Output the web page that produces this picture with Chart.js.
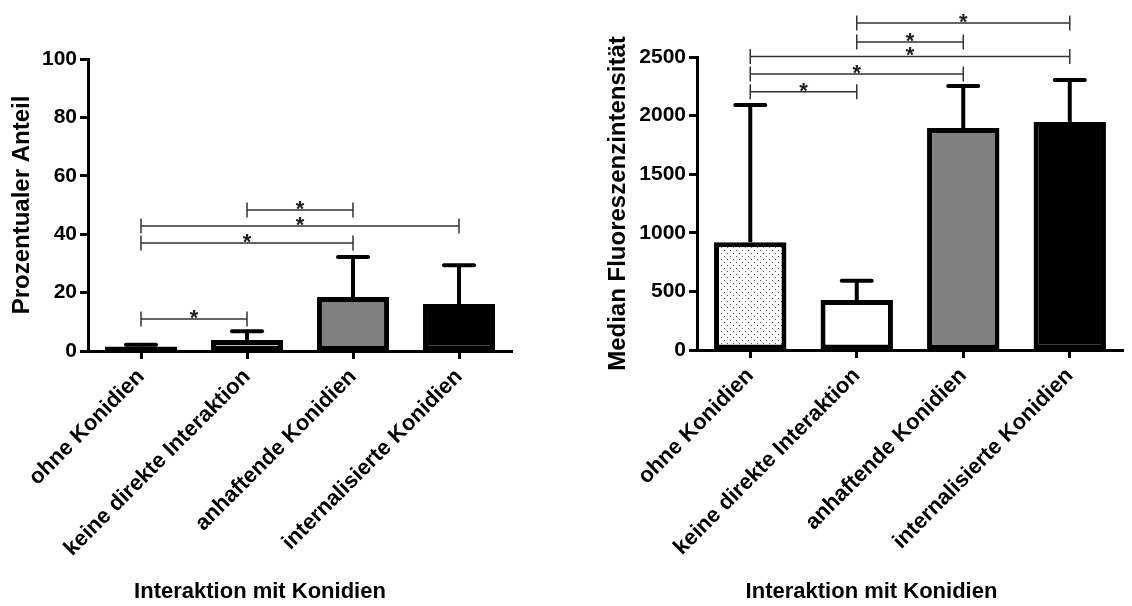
<!DOCTYPE html>
<html>
<head>
<meta charset="utf-8">
<script src="https://cdn.jsdelivr.net/npm/chart.js@4"></script>
<style>
  body { margin: 0; background: #fff; }
  #wrap { position: relative; width: 1132px; height: 606px; overflow: hidden; }
  canvas { position: absolute; top: 0; }
  #anteilChart { left: 0; }
  #mfiChart { left: 600px; }
</style>
</head>
<body>
<div id="wrap">
  <canvas id="anteilChart" width="530" height="606"></canvas>
  <canvas id="mfiChart" width="532" height="606"></canvas>
</div>
<script>
// DATA
const categories = [
  "ohne Konidien",
  "keine direkte Interaktion",
  "anhaftende Konidien",
  "internalisierte Konidien",
];
const xTitle = "Interaktion mit Konidien";

// left panel: Prozentualer Anteil (mean + upper SD)
const anteilMean = [1.5, 3.8, 18.5, 16.1];
const anteilSD = [0.6, 3.0, 13.7, 13.3];
const anteilSigPairs = [[0, 1], [0, 2], [0, 3], [1, 2]];
const anteilSigLevels = [11, 37, 42.8, 48.3];
const anteilMax = 100;
const anteilStep = 20;

// right panel: Median Fluoreszenzintensitaet
const mfiMean = [920, 427, 1894, 1946];
const mfiSD = [1170, 163, 359, 358];
const mfiSigPairs = [[0, 1], [0, 2], [0, 3], [1, 2], [1, 3]];
const mfiSigLevels = [2203, 2355, 2505, 2628, 2790];
const mfiMax = 2500;
const mfiStep = 500;

const FONT = "'Liberation Sans', Arial, sans-serif";

// dotted fill for the first bar
function dotPattern() {
  const tile = document.createElement("canvas");
  tile.width = 6;
  tile.height = 6;
  const t = tile.getContext("2d");
  t.fillStyle = "#fff";
  t.fillRect(0, 0, 6, 6);
  t.fillStyle = "#555";
  t.fillRect(1, 1, 1, 1);
  t.fillRect(4, 4, 1, 1);
  return document.createElement("canvas").getContext("2d").createPattern(tile, "repeat");
}
const barColors = [dotPattern(), "#ffffff", "#808080", "#000000"];

// error bars + significance brackets, placed through the chart scales
const annotate = {
  id: "annotate",
  afterDatasetsDraw(chart, args, opts) {
    const ctx = chart.ctx;
    const xs = chart.scales.x;
    const ys = chart.scales.y;
    ctx.save();

    ctx.strokeStyle = "#000";
    ctx.lineWidth = 4;
    opts.mean.forEach((m, i) => {
      const px = xs.getPixelForValue(i);
      const top = ys.getPixelForValue(m);
      const cap = ys.getPixelForValue(m + opts.sd[i]);
      ctx.lineCap = "butt";
      ctx.beginPath();
      ctx.moveTo(px, top);
      ctx.lineTo(px, cap);
      ctx.stroke();
      ctx.lineCap = "round";
      ctx.beginPath();
      ctx.moveTo(px - 15, cap);
      ctx.lineTo(px + 15, cap);
      ctx.stroke();
    });

    ctx.strokeStyle = "#333";
    ctx.lineWidth = 1.5;
    ctx.lineCap = "butt";
    ctx.fillStyle = "#1c1c28";
    ctx.font = "bold 22px " + FONT;
    ctx.textAlign = "center";
    ctx.textBaseline = "alphabetic";
    opts.pairs.forEach((p, i) => {
      const x1 = xs.getPixelForValue(p[0]);
      const x2 = xs.getPixelForValue(p[1]);
      const py = ys.getPixelForValue(opts.levels[i]);
      ctx.beginPath();
      ctx.moveTo(x1, py);
      ctx.lineTo(x2, py);
      ctx.moveTo(x1, py - 7.5);
      ctx.lineTo(x1, py + 7.5);
      ctx.moveTo(x2, py - 7.5);
      ctx.lineTo(x2, py + 7.5);
      ctx.stroke();
      ctx.fillText("*", (x1 + x2) / 2, py + 6);
    });
    ctx.restore();
  },
};

function makeChart(canvasId, cfg) {
  return new Chart(document.getElementById(canvasId), {
    type: "bar",
    data: {
      labels: categories,
      datasets: [
        {
          data: cfg.mean,
          backgroundColor: barColors,
          borderColor: "#000",
          borderWidth: 5,
          borderSkipped: false,
          categoryPercentage: 1,
          barPercentage: 0.68,
        },
      ],
    },
    options: {
      responsive: false,
      animation: false,
      layout: { padding: cfg.padding },
      plugins: {
        legend: { display: false },
        tooltip: { enabled: false },
        title: {
          display: true,
          text: xTitle,
          position: "bottom",
          color: "#000",
          font: { family: FONT, size: 22, weight: "bold" },
          padding: { top: 0, bottom: 1 },
        },
        annotate: { mean: cfg.mean, sd: cfg.sd, pairs: cfg.pairs, levels: cfg.levels },
      },
      scales: {
        x: {
          afterFit: (s) => { s.height = cfg.xHeight; },
          border: { display: true, color: "#000", width: 3 },
          grid: {
            display: true,
            drawOnChartArea: false,
            drawTicks: true,
            offset: false,
            tickLength: 8,
            tickWidth: 3,
            tickColor: "#000",
          },
          ticks: {
            autoSkip: false,
            minRotation: 45,
            maxRotation: 45,
            padding: 5,
            color: "#000",
            font: { family: FONT, size: 22, weight: "bold" },
          },
        },
        y: {
          min: 0,
          max: cfg.max,
          afterFit: (s) => { s.width = cfg.yWidth; },
          border: { display: true, color: "#000", width: 3 },
          grid: {
            display: true,
            drawOnChartArea: false,
            drawTicks: true,
            tickLength: 8,
            tickWidth: 3,
            tickColor: "#000",
          },
          ticks: {
            stepSize: cfg.step,
            padding: 3,
            color: "#000",
            font: { family: FONT, size: 21, weight: "bold" },
            callback: (v) => String(v),
          },
          title: {
            display: true,
            text: cfg.yTitle,
            color: "#000",
            font: { family: FONT, size: 24, weight: "bold" },
            padding: { top: cfg.yTitlePad, bottom: 0 },
          },
        },
      },
    },
    plugins: [annotate],
  });
}

makeChart("anteilChart", {
  mean: anteilMean,
  sd: anteilSD,
  pairs: anteilSigPairs,
  levels: anteilSigLevels,
  max: anteilMax,
  step: anteilStep,
  yTitle: "Prozentualer Anteil",
  yTitlePad: 0,
  yWidth: 80,
  xHeight: 227.6,
  padding: { top: 59, left: 8, right: 18, bottom: 0 },
});

makeChart("mfiChart", {
  mean: mfiMean,
  sd: mfiSD,
  pairs: mfiSigPairs,
  levels: mfiSigLevels,
  max: mfiMax,
  step: mfiStep,
  yTitle: "Median Fluoreszenzintensität",
  yTitlePad: -16,
  yWidth: 77,
  xHeight: 228.6,
  padding: { top: 57, left: 20, right: 9, bottom: 0 },
});
</script>
</body>
</html>
